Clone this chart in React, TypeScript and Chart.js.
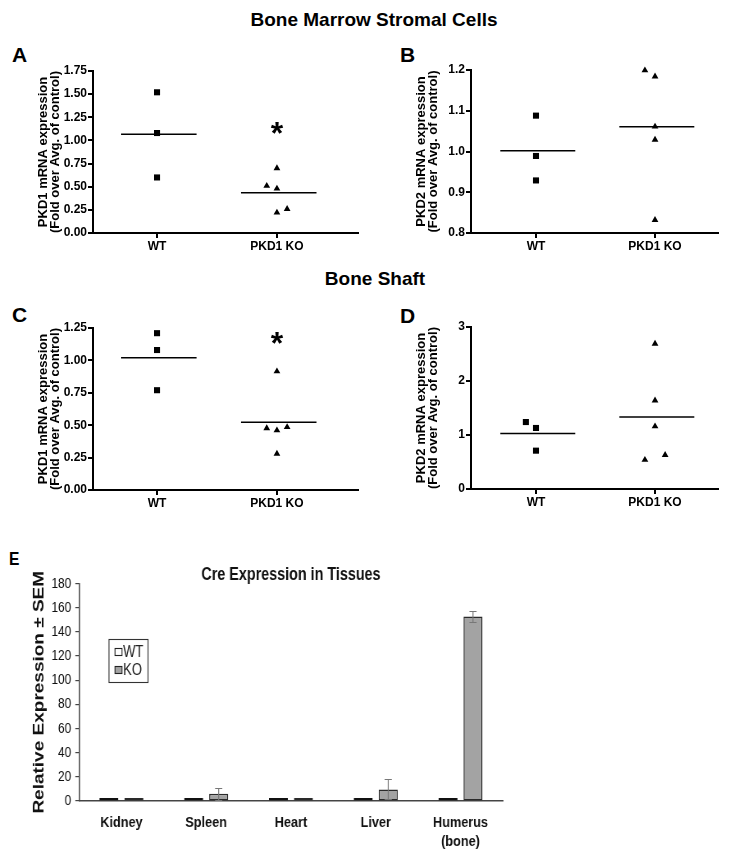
import React, { useEffect, useRef } from 'react';
import { Chart, registerables } from 'chart.js';

Chart.register(...registerables);

// ---------- data ----------
const GROUPS = ['WT', 'PKD1 KO'];

const A_WT = [1.52, 1.08, 0.6];
const A_KO = [0.7, 0.51, 0.48, 0.22, 0.26];
const A_WT_JITTER = [0, 0, 0];
const A_KO_JITTER = [0, -1, 0, 0, 1];
const A_Y_TICKS = [0, 0.25, 0.5, 0.75, 1.0, 1.25, 1.5, 1.75];
const A_STAR = 1.16;

const B_WT = [1.088, 0.989, 0.929];
const B_KO = [1.199, 1.184, 1.061, 1.029, 0.832];
const B_WT_JITTER = [0, 0, 0];
const B_KO_JITTER = [-1, 0, 0, 0, 0];
const B_Y_TICKS = [0.8, 0.9, 1.0, 1.1, 1.2];

const C_WT = [1.21, 1.08, 0.77];
const C_KO = [0.915, 0.477, 0.46, 0.485, 0.28];
const C_WT_JITTER = [0, 0, 0];
const C_KO_JITTER = [0, -1, 0, 1, 0];
const C_Y_TICKS = [0, 0.25, 0.5, 0.75, 1.0, 1.25];
const C_STAR = 1.19;

const D_WT = [1.24, 1.13, 0.71];
const D_KO = [2.69, 1.64, 1.16, 0.54, 0.63];
const D_WT_JITTER = [-1, 0, 0];
const D_KO_JITTER = [0, 0, 0, -1, 1];
const D_Y_TICKS = [0, 1, 2, 3];

const TISSUES = [['Kidney'], ['Spleen'], ['Heart'], ['Liver'], ['Humerus', '(bone)']];
const E_SERIES = ['WT', 'KO'];
const E_WT = [1, 1, 1, 1, 1];
const E_KO = [1, 6, 1, 9.6, 152.6];
const E_KO_SEM = [0, 5, 0, 8.3, 4.7];
const E_Y_TICKS = [0, 20, 40, 60, 80, 100, 120, 140, 160, 180];

// ---------- styles ----------
const SANS = '"Liberation Sans", Arial, Helvetica, sans-serif';
const JITTER_STEP = 0.085;
const MEAN_LEFT = 0.3;
const MEAN_RIGHT = 0.33;
// panel E of the reference is horizontally condensed (Arial-Narrow look)
const SX = 0.82;

const mean = (a: number[]) => a.reduce((s, v) => s + v, 0) / a.length;

function starPlugin(xv: number, yv: number) {
  return {
    id: 'starMark',
    afterDatasetsDraw(chart: any) {
      const { ctx, scales } = chart;
      const px = scales.x.getPixelForValue(xv);
      const py = scales.y.getPixelForValue(yv);
      const fs = 32;
      ctx.save();
      ctx.font = `bold ${fs}px ${SANS}`;
      ctx.fillStyle = '#000';
      ctx.textAlign = 'center';
      ctx.textBaseline = 'alphabetic';
      ctx.fillText('*', px, py + 0.56 * fs);
      ctx.restore();
    },
  };
}

type Panel = {
  wt: number[];
  ko: number[];
  wtJ: number[];
  koJ: number[];
  yTicks: number[];
  dec: number;
  yTitle: string[];
  star?: number;
  xMin: number;
  xMax: number;
  padTop: number;
  padRight: number;
  yWidth: number;
  xHeight: number;
  titlePad: number;
};

function scatterConfig(p: Panel): any {
  const pts = (vals: number[], jit: number[], c: number) =>
    vals.map((v, i) => ({ x: c + jit[i] * JITTER_STEP, y: v }));
  const meanLine = (vals: number[], c: number) => {
    const m = mean(vals);
    return [
      { x: c - MEAN_LEFT, y: m },
      { x: c + MEAN_RIGHT, y: m },
    ];
  };
  const tickFont = { family: SANS, size: 12, weight: 'bold' as const };
  const grid = {
    display: true,
    drawOnChartArea: false,
    drawTicks: true,
    tickLength: 5,
    tickWidth: 2,
    tickColor: '#000',
    color: '#000',
    lineWidth: 2,
  };
  const border = { display: true, color: '#000', width: 2 };
  return {
    type: 'scatter',
    data: {
      datasets: [
        { data: pts(p.wt, p.wtJ, 1), clip: false, pointStyle: 'rect', pointRadius: 4.3, pointBorderWidth: 0, backgroundColor: '#000', borderColor: '#000' },
        { data: pts(p.ko, p.koJ, 2), clip: false, pointStyle: 'triangle', pointRadius: 3.9, pointBorderWidth: 0, backgroundColor: '#000', borderColor: '#000' },
        { data: meanLine(p.wt, 1), showLine: true, borderColor: '#000', borderWidth: 1.5, pointRadius: 0 },
        { data: meanLine(p.ko, 2), showLine: true, borderColor: '#000', borderWidth: 1.5, pointRadius: 0 },
      ],
    },
    options: {
      animation: false,
      responsive: false,
      maintainAspectRatio: false,
      layout: { padding: { left: 0, top: p.padTop, right: p.padRight, bottom: 0 } },
      plugins: { legend: { display: false }, tooltip: { enabled: false }, title: { display: false } },
      scales: {
        x: {
          type: 'linear',
          min: p.xMin,
          max: p.xMax,
          afterBuildTicks: (s: any) => {
            s.ticks = [{ value: 1 }, { value: 2 }];
          },
          afterFit: (s: any) => {
            s.height = p.xHeight;
          },
          ticks: {
            autoSkip: false,
            maxRotation: 0,
            padding: 1,
            color: '#000',
            font: tickFont,
            callback: (v: number) => GROUPS[Math.round(v) - 1] ?? '',
          },
          grid,
          border,
        },
        y: {
          type: 'linear',
          min: p.yTicks[0],
          max: p.yTicks[p.yTicks.length - 1],
          afterBuildTicks: (s: any) => {
            s.ticks = p.yTicks.map((v) => ({ value: v }));
          },
          afterFit: (s: any) => {
            s.width = p.yWidth;
          },
          ticks: {
            autoSkip: false,
            padding: 1,
            color: '#000',
            font: tickFont,
            callback: (v: number) => Number(v).toFixed(p.dec),
          },
          title: {
            display: true,
            text: p.yTitle,
            color: '#000',
            font: { family: SANS, size: 13, weight: 'bold', lineHeight: 0.96 },
            padding: { top: p.titlePad, bottom: 0 },
          },
          grid,
          border,
        },
      },
    },
    plugins: p.star != null ? [starPlugin(2, p.star)] : [],
  };
}

const semPlugin = {
  id: 'semBars',
  afterDatasetsDraw(chart: any) {
    const { ctx, scales } = chart;
    chart.data.datasets.forEach((ds: any, di: number) => {
      if (!ds.sem) return;
      const meta = chart.getDatasetMeta(di);
      ctx.save();
      ctx.strokeStyle = '#777';
      ctx.lineWidth = 1.2;
      meta.data.forEach((bar: any, i: number) => {
        const e = ds.sem[i];
        if (!e) return;
        const v = ds.data[i];
        const top = Math.round(scales.y.getPixelForValue(v + e)) + 0.5;
        const bot = Math.round(scales.y.getPixelForValue(Math.max(v - e, 0))) + 0.5;
        const x = bar.x;
        const cap = 3.6 / SX;
        ctx.beginPath();
        ctx.moveTo(x, top);
        ctx.lineTo(x, bot);
        ctx.moveTo(x - cap, top);
        ctx.lineTo(x + cap, top);
        ctx.moveTo(x - cap, bot);
        ctx.lineTo(x + cap, bot);
        ctx.stroke();
      });
      ctx.restore();
    });
  },
};

const insideLegend = {
  id: 'insideLegend',
  afterDraw(chart: any) {
    const { ctx, chartArea } = chart;
    const x0 = chartArea.left + 30 / SX;
    const y0 = Math.round(chartArea.top + 55) + 0.5;
    const w = 39 / SX;
    ctx.save();
    ctx.fillStyle = '#fff';
    ctx.fillRect(x0, y0, w, 43);
    ctx.strokeStyle = '#333';
    ctx.lineWidth = 1.1;
    ctx.strokeRect(x0, y0, w, 43);
    chart.data.datasets.forEach((ds: any, i: number) => {
      const cy = Math.round(y0 + 12 + i * 18);
      const sq = 7 / SX;
      ctx.fillStyle = ds.backgroundColor;
      ctx.fillRect(x0 + 6 / SX, cy - 3.5, sq, 7);
      ctx.strokeStyle = '#222';
      ctx.lineWidth = 1.1;
      ctx.strokeRect(x0 + 6 / SX, cy - 3.5, sq, 7);
      ctx.fillStyle = '#222';
      ctx.font = `16px ${SANS}`;
      ctx.textAlign = 'left';
      ctx.textBaseline = 'middle';
      ctx.fillText(ds.label, x0 + 14 / SX, cy + 1);
    });
    ctx.restore();
  },
};

const E_W = 520;
const E_H = 350;

function barConfig(): any {
  const barCommon = { categoryPercentage: 0.59, barPercentage: 0.76, minBarLength: 3, borderSkipped: false, borderWidth: 1.5 };
  return {
    type: 'bar',
    data: {
      labels: TISSUES,
      datasets: [
        { label: E_SERIES[0], data: E_WT, backgroundColor: '#ffffff', borderColor: '#111', ...barCommon },
        { label: E_SERIES[1], data: E_KO, sem: E_KO_SEM, backgroundColor: '#a3a3a3', borderColor: '#2a2a2a', ...barCommon },
      ],
    },
    options: {
      animation: false,
      responsive: false,
      maintainAspectRatio: false,
      layout: { padding: { left: 0, top: 0, right: 17 / SX, bottom: 0 } },
      plugins: {
        legend: { display: false },
        tooltip: { enabled: false },
        title: {
          display: true,
          text: 'Cre Expression in Tissues',
          fullSize: false,
          color: '#111',
          font: { family: SANS, size: 17.5, weight: 'bold', lineHeight: 1.0 },
          padding: { top: 56, bottom: 0 },
        },
      },
      scales: {
        x: {
          afterFit: (s: any) => {
            s.height = 59;
          },
          ticks: {
            autoSkip: false,
            maxRotation: 0,
            padding: 12,
            color: '#111',
            font: { family: SANS, size: 15.5, weight: 'bold', lineHeight: 1.22 },
          },
          grid: { display: false, drawTicks: false },
          border: { display: true, color: '#444', width: 1.5 },
        },
        y: {
          min: E_Y_TICKS[0],
          max: E_Y_TICKS[E_Y_TICKS.length - 1],
          afterBuildTicks: (s: any) => {
            s.ticks = E_Y_TICKS.map((v) => ({ value: v }));
          },
          afterFit: (s: any) => {
            s.width = 79 / SX;
          },
          ticks: {
            autoSkip: false,
            padding: 5,
            color: '#111',
            font: { family: SANS, size: 14.5 },
          },
          title: {
            display: true,
            text: 'Relative Expression ± SEM',
            color: '#111',
            font: { family: SANS, size: 19, weight: 'bold', lineHeight: 1.2 },
            padding: { top: 39 / SX - 11.4, bottom: 0 },
          },
          grid: { display: true, drawOnChartArea: false, drawTicks: true, tickLength: 4.5, color: '#444', lineWidth: 1.2 },
          border: { display: true, color: '#444', width: 1.5 },
        },
      },
    },
    plugins: [semPlugin, insideLegend],
  };
}

function ChartCanvas(props: { left: number; top: number; width: number; height: number; scaleX?: number; make: () => any }) {
  const ref = useRef<HTMLCanvasElement>(null);
  useEffect(() => {
    const chart = new Chart(ref.current as HTMLCanvasElement, props.make());
    return () => chart.destroy();
  }, []);
  const sx = props.scaleX ?? 1;
  return (
    <canvas
      ref={ref}
      width={props.width}
      height={props.height}
      style={{
        position: 'absolute',
        left: props.left,
        top: props.top,
        width: props.width,
        height: props.height,
        transform: sx !== 1 ? `scaleX(${sx})` : undefined,
        transformOrigin: '0 0',
      }}
    />
  );
}

const Y1_TITLE = ['PKD1 mRNA expression', '(Fold over Avg. of control)'];
const Y2_TITLE = ['PKD2 mRNA expression', '(Fold over Avg. of control)'];

const PANEL_A: Panel = { wt: A_WT, ko: A_KO, wtJ: A_WT_JITTER, koJ: A_KO_JITTER, yTicks: A_Y_TICKS, dec: 2, yTitle: Y1_TITLE, star: A_STAR, xMin: 0.466, xMax: 2.676, padTop: 31, padRight: 7, yWidth: 93, xHeight: 37, titlePad: 36.7 };
const PANEL_B: Panel = { wt: B_WT, ko: B_KO, wtJ: B_WT_JITTER, koJ: B_KO_JITTER, yTicks: B_Y_TICKS, dec: 1, yTitle: Y2_TITLE, xMin: 0.454, xMax: 2.529, padTop: 30, padRight: 11, yWidth: 106, xHeight: 37, titlePad: 49.7 };
const PANEL_C: Panel = { wt: C_WT, ko: C_KO, wtJ: C_WT_JITTER, koJ: C_KO_JITTER, yTicks: C_Y_TICKS, dec: 2, yTitle: Y1_TITLE, star: C_STAR, xMin: 0.466, xMax: 2.676, padTop: 33, padRight: 7, yWidth: 93, xHeight: 35, titlePad: 36.7 };
const PANEL_D: Panel = { wt: D_WT, ko: D_KO, wtJ: D_WT_JITTER, koJ: D_KO_JITTER, yTicks: D_Y_TICKS, dec: 0, yTitle: Y2_TITLE, xMin: 0.454, xMax: 2.529, padTop: 32, padRight: 11, yWidth: 106, xHeight: 36, titlePad: 49.7 };

const heading = (top: number, cx: number): React.CSSProperties => ({
  position: 'absolute',
  top,
  left: cx,
  transform: 'translateX(-50%)',
  fontFamily: SANS,
  fontWeight: 'bold',
  fontSize: 19,
  lineHeight: '19px',
  whiteSpace: 'nowrap',
  color: '#000',
});

const letter = (left: number, top: number, size: number, sx = 1): React.CSSProperties => ({
  position: 'absolute',
  left,
  top,
  fontFamily: SANS,
  fontWeight: 'bold',
  fontSize: size,
  lineHeight: `${size}px`,
  color: '#000',
  transform: sx !== 1 ? `scaleX(${sx})` : undefined,
  transformOrigin: '0 0',
});

export default function App() {
  return (
    <div style={{ position: 'absolute', left: 0, top: 0, width: 729, height: 860, background: '#fff', overflow: 'hidden' }}>
      <div style={heading(9.7, 374)}>Bone Marrow Stromal Cells</div>
      <div style={heading(268.7, 375)}>Bone Shaft</div>
      <div style={letter(12, 44.3, 21)}>A</div>
      <div style={letter(400, 44.3, 21)}>B</div>
      <div style={letter(12, 304.3, 21)}>C</div>
      <div style={letter(400, 305.3, 21)}>D</div>
      <div style={letter(9, 548.5, 19, SX)}>E</div>
      <ChartCanvas left={0} top={40} width={365} height={230} make={() => scatterConfig(PANEL_A)} />
      <ChartCanvas left={365} top={40} width={364} height={230} make={() => scatterConfig(PANEL_B)} />
      <ChartCanvas left={0} top={295} width={365} height={230} make={() => scatterConfig(PANEL_C)} />
      <ChartCanvas left={365} top={295} width={364} height={230} make={() => scatterConfig(PANEL_D)} />
      <ChartCanvas left={0} top={510} width={Math.round(E_W / SX)} height={E_H} scaleX={SX} make={barConfig} />
    </div>
  );
}
